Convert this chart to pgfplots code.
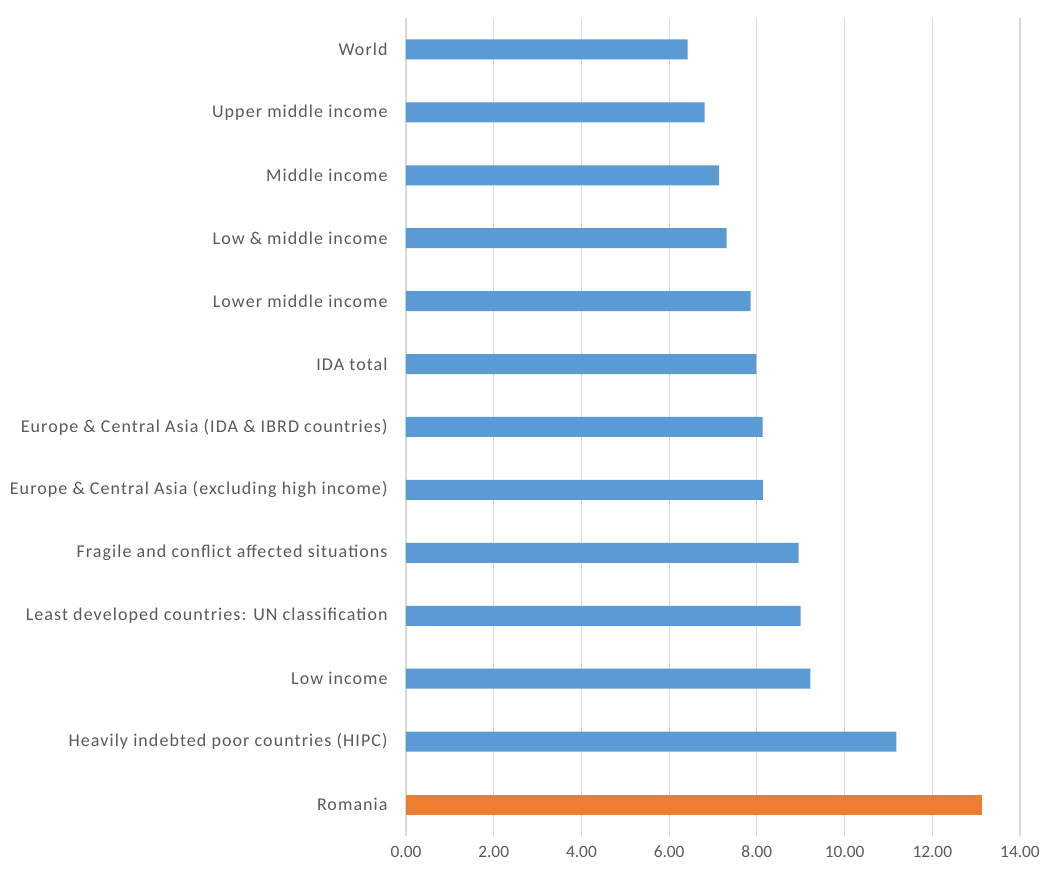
\documentclass[border=0pt]{standalone}
\usepackage{pgfplots}
\pgfplotsset{compat=1.18}
\usepackage{fontspec}
\setmainfont{Carlito}
\newfontfamily\ylabfont[LetterSpace=6]{Carlito}
\usetikzlibrary{calc}
\definecolor{barblue}{HTML}{5B9BD5}
\definecolor{barorange}{HTML}{ED7D31}
\definecolor{gridgray}{HTML}{D9D9D9}
\definecolor{textgray}{HTML}{595959}
\begin{document}
\begin{tikzpicture}[x=1pt,y=1pt]
\begin{axis}[
  name=ax,
  scale only axis,
  width=460.5pt, height=613.5pt,
  xbar, bar width=15pt, bar shift=0pt,
  xmin=0, xmax=14,
  ymin=-0.5, ymax=12.5,
  xtick={0,2,...,14},
  ytick={0,...,12},
  yticklabels={Romania,Heavily indebted poor countries (HIPC),Low income,Least developed countries: UN classification,Fragile and conflict affected situations,Europe \& Central Asia (excluding high income),Europe \& Central Asia (IDA \& IBRD countries),IDA total,Lower middle income,Low \& middle income,Middle income,Upper middle income,World},
  xmajorgrids, grid style={gridgray, line width=0.8pt},
  axis line style={draw=none},
  tick style={draw=none},
  tick label style={font=\fontsize{13}{15}\selectfont, text=textgray},
  /pgf/number format/assume math mode=true,
  xticklabel={\pgfmathprintnumber[fixed,fixed zerofill,precision=2]{\tick}},
  yticklabel style={xshift=-6pt, font=\ylabfont\fontsize{13.5}{15}\selectfont},
  xticklabel style={yshift=-4pt},
]
\addplot[fill=barblue, draw=none] coordinates {
(11.18,1) (9.22,2) (9.00,3) (8.95,4) (8.14,5) (8.13,6) (7.99,7) (7.86,8) (7.31,9) (7.14,10) (6.81,11) (6.42,12)};
\addplot[fill=barorange, draw=none] coordinates {(13.13,0)};
\end{axis}
\pgfresetboundingbox
\path ($(ax.south west)+(-304.5pt,-30pt)$) rectangle ($(ax.north east)+(17.25pt,13.5pt)$);
\end{tikzpicture}
\end{document}
